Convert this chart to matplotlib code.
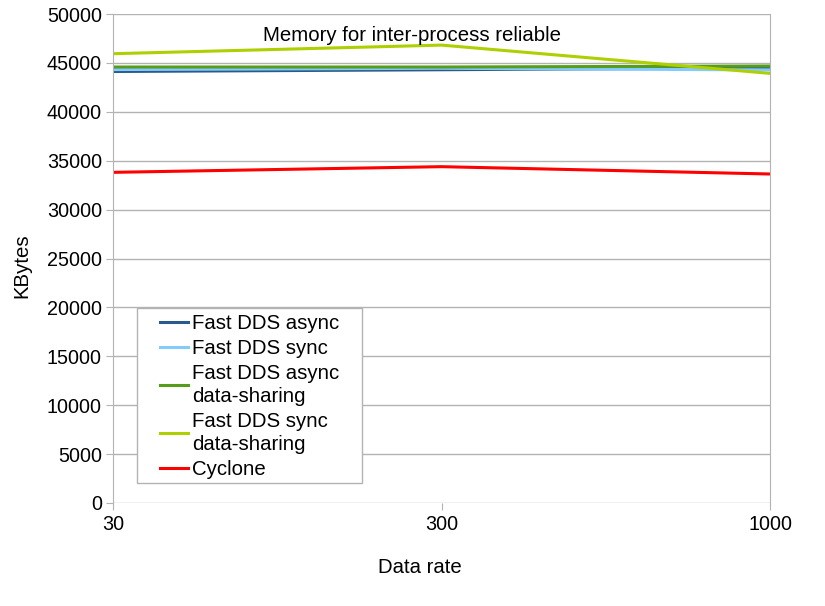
import matplotlib

matplotlib.use("Agg")
import matplotlib.pyplot as plt
from matplotlib.patches import Rectangle

plt.rcParams["font.family"] = ["Liberation Sans", "DejaVu Sans"]

rates = ["30", "300", "1000"]
series_names = [
    "Fast DDS async",
    "Fast DDS sync",
    "Fast DDS async\ndata-sharing",
    "Fast DDS sync\ndata-sharing",
    "Cyclone",
]
fastdds_async = [44120, 44300, 44500]
fastdds_sync = [44320, 44450, 44280]
fastdds_async_ds = [44580, 44580, 44680]
fastdds_sync_ds = [45940, 46820, 43930]
cyclone = [33810, 34390, 33640]

colors = ["#2a5a8c", "#83caff", "#579d1c", "#aecf00", "#ff0000"]
GRID = "#b3b3b3"
FS = 14.7

fig = plt.figure(figsize=(8.25, 6.06), dpi=100)
ax = fig.add_axes([113 / 825, 103 / 606, 657 / 825, 489 / 606])

x = range(len(rates))
for vals, name, col in zip(
    [fastdds_async, fastdds_sync, fastdds_async_ds, fastdds_sync_ds, cyclone],
    series_names, colors):
    ax.plot(x, vals, color=col, lw=2.2, label=name)

ax.set_xlim(0, 2)
ax.set_ylim(0, 50000)
ax.set_xticks(list(x))
ax.set_xticklabels(rates)
ax.set_yticks(range(0, 50001, 5000))
ax.grid(axis="y", color=GRID, lw=1.0)
ax.set_axisbelow(True)
for side in ["top", "bottom"]:
    ax.spines[side].set_visible(False)
for side in ["left", "right"]:
    ax.spines[side].set_color(GRID)
ax.tick_params(axis="both", colors=GRID, labelcolor="black",
               labelsize=14.2, length=5)
ax.tick_params(axis="x", pad=4)
ax.tick_params(axis="y", pad=3)

ax.text(0.455, 0.957, "Memory for inter-process reliable", transform=ax.transAxes,
        ha="center", va="center", fontsize=FS)
ax.set_ylabel("KBytes", fontsize=FS)
ax.yaxis.set_label_coords(-0.124, 0.485)
ax.set_xlabel("Data rate", fontsize=FS)
ax.xaxis.set_label_coords(0.467, -0.112)

leg = ax.legend(loc="upper left", bbox_to_anchor=(0.0715, 0.3865),
                fontsize=FS, frameon=False, borderpad=0, borderaxespad=0,
                handlelength=1.37, handletextpad=0.2, labelspacing=0.3)
for t in leg.get_texts():
    t.set_linespacing(1.25)
leg.set_zorder(6)

# legend frame with wider side padding, like the office-suite legend box
fig.canvas.draw()
bb = leg.get_window_extent()
W, H = fig.bbox.width, fig.bbox.height
x0, y0 = bb.x0 - 23, bb.y0 - 4
x1, y1 = bb.x1 + 23, bb.y1 + 6
ax.add_patch(Rectangle((x0 / W, y0 / H), (x1 - x0) / W, (y1 - y0) / H,
                       transform=fig.transFigure, facecolor="white",
                       edgecolor=GRID, lw=1.0, zorder=5, clip_on=False))

fig.savefig("out.png", dpi=100)
